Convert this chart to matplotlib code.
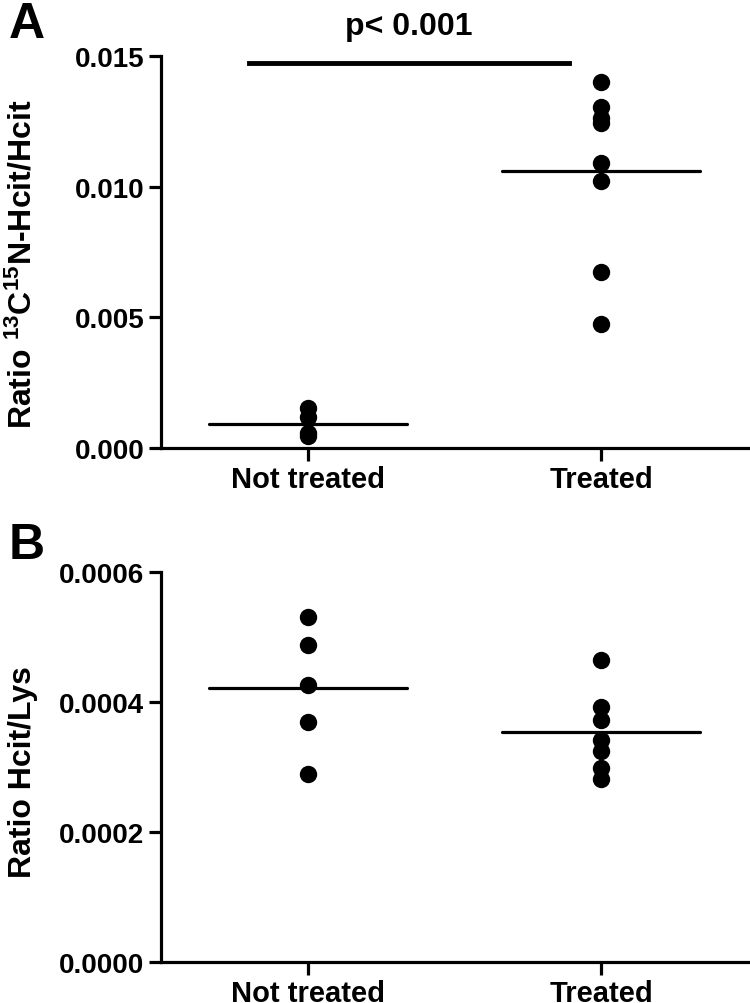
import numpy as np
import matplotlib
matplotlib.use('Agg')
import matplotlib.pyplot as plt

plt.rcParams['font.family'] = ['Liberation Sans', 'DejaVu Sans']
plt.rcParams['font.weight'] = 'bold'
plt.rcParams['axes.labelweight'] = 'bold'
plt.rcParams['mathtext.fontset'] = 'custom'
plt.rcParams['mathtext.rm'] = 'Liberation Sans:bold'
plt.rcParams['mathtext.bf'] = 'Liberation Sans:bold'
plt.rcParams['mathtext.it'] = 'Liberation Sans:bold'
plt.rcParams['mathtext.default'] = 'bf'

groups = ['Not treated', 'Treated']

# panel A: ratio 13C15N-Hcit / Hcit
a_not_treated = [0.00152, 0.00118, 0.00056, 0.00044]
a_treated = [0.0140, 0.01306, 0.01262, 0.01242, 0.01091, 0.01023, 0.00675, 0.00474]
a_yticks = [0.0, 0.005, 0.010, 0.015]
a_yticklabels = ['0.000', '0.005', '0.010', '0.015']

# panel B: ratio Hcit / Lys
b_not_treated = [0.000530, 0.000488, 0.000426, 0.000370, 0.000290]
b_treated = [0.000464, 0.000393, 0.000372, 0.000341, 0.000325, 0.000298, 0.000282]
b_yticks = [0.0, 0.0002, 0.0004, 0.0006]
b_yticklabels = ['0.0000', '0.0002', '0.0004', '0.0006']

p_text = 'p< 0.001'


def dot_panel(ax, data, yticks, yticklabels, ylabel, label_y):
    for i, vals in enumerate(data):
        x = i + 1
        ax.plot([x] * len(vals), vals, 'o', color='black', markersize=11.5, clip_on=False, zorder=3)
        m = np.mean(vals)
        ax.plot([x - 0.337, x + 0.337], [m, m], color='black', lw=2.3, solid_capstyle='round', zorder=2)
    ax.set_xlim(0.5, 2.5)
    ax.set_ylim(yticks[0], yticks[-1])
    ax.set_xticks([1, 2])
    ax.set_xticklabels(groups, fontsize=21)
    ax.set_yticks(yticks)
    ax.set_yticklabels(yticklabels, fontsize=20)
    for s in ['top', 'right']:
        ax.spines[s].set_visible(False)
    for s in ['left', 'bottom']:
        ax.spines[s].set_linewidth(2.3)
    ax.tick_params(width=2.3, length=9, pad=3)
    ax.set_ylabel(ylabel, fontsize=23, fontweight='bold', ha='center', va='center')
    ax.yaxis.set_label_coords(-0.235, label_y)


fig = plt.figure(figsize=(7.5, 10.04), dpi=100)
ax1 = fig.add_axes([0.2147, 0.5528, 0.7827, 0.3904])
ax2 = fig.add_axes([0.2147, 0.0408, 0.7827, 0.3885])

dot_panel(ax1, [a_not_treated, a_treated], a_yticks, a_yticklabels,
          r'Ratio $^{13}$C$^{15}$N-Hcit/Hcit', 0.47)
dot_panel(ax2, [b_not_treated, b_treated], b_yticks, b_yticklabels,
          'Ratio Hcit/Lys', 0.49)

# significance bar
ax1.plot([0.8, 1.89], [0.01473, 0.01473], color='black', lw=3.5, clip_on=False)
ax1.text(1.345, 0.01584, p_text, ha='center', va='baseline', fontsize=23, clip_on=False)

fig.text(0.012, 0.998, 'A', fontsize=36, ha='left', va='top')
fig.text(0.012, 0.479, 'B', fontsize=36, ha='left', va='top')

fig.savefig('out.png', dpi=100)
